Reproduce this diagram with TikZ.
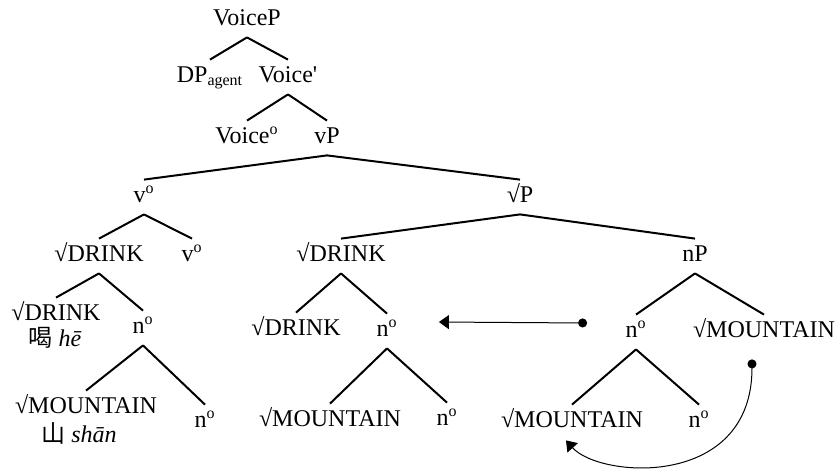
\documentclass[tikz,border=0pt]{standalone}
\usepackage{fontspec}
\setmainfont{Liberation Serif}
\newfontfamily\cjk{Noto Sans CJK SC}
\usetikzlibrary{arrows.meta}

\newcommand{\headcat}[1]{#1\textsuperscript{o}}

\tikzset{
  cat/.style={
    anchor=base, inner sep=2pt, text height=9pt, text depth=4pt,
    font=\fontsize{12}{14}\selectfont
  },
  glossed/.style={cat, inner ysep=0pt, text height=11pt, text depth=0pt},
  gloss/.style={anchor=base, inner sep=0pt, font=\fontsize{12}{14}\selectfont},
  branch/.style={line width=1pt},
  move/.style={line width=0.5pt, {Circle[length=4.5pt]}-{Triangle[length=5pt,width=7pt]}}
}

\begin{document}
\begin{tikzpicture}[x=0.5pt, y=-0.5pt]
    \useasboundingbox (0,0) rectangle (839,472);
    % upper spine
    \node[cat] (voicep)    at (247,25)  {VoiceP};
    \node[cat] (dp)        at (210,82)  {DP\textsubscript{agent}};
    \node[cat] (voicebar)  at (288,82)  {Voice\textquotesingle};
    \node[cat] (voicehead) at (247,143) {\headcat{Voice}};
    \node[cat] (vp)        at (327,143) {vP};
    \node[cat] (vhead)     at (144,202) {\headcat{v}};
    \node[cat] (rootp)     at (520,202) {√P};

    % complex head under v
    \node[cat] (drinkv)     at (99,261)  {√DRINK};
    \node[cat] (vlow)       at (192,261) {\headcat{v}};
    \node[glossed] (drinkroot) at (56,320) {√DRINK};
    \node[gloss] (drinkgloss) at (55,346) {{\cjk 喝} \textit{hē}};
    \node[cat] (drinkn)     at (143,333) {\headcat{n}};
    \node[glossed] (mountroot) at (86,413) {√MOUNTAIN};
    \node[gloss] (mountgloss) at (79,442) {{\cjk 山} \textit{shān}};
    \node[cat] (mountn)     at (205,427) {\headcat{n}};

    % root phrase
    \node[cat] (drinkmid)   at (341,261) {√DRINK};
    \node[cat] (drinkleaf)  at (296,335) {√DRINK};
    \node[cat] (nmid)       at (387,336) {\headcat{n}};
    \node[cat] (mountmid)   at (330,426) {√MOUNTAIN};
    \node[cat] (nmidleaf)   at (447,425) {\headcat{n}};

    \node[cat] (np)         at (695,261) {nP};
    \node[cat] (nright)     at (636,337) {\headcat{n}};
    \node[cat] (mountright) at (764,337) {√MOUNTAIN};
    \node[cat] (mountlow)   at (572,427) {√MOUNTAIN};
    \node[cat] (nlow)       at (699,427) {\headcat{n}};

    % branches
    \draw[branch] (voicep.south) -- (dp.north);
    \draw[branch] (voicep.south) -- (voicebar.north);
    \draw[branch] (voicebar.south) -- (voicehead.north);
    \draw[branch] (voicebar.south) -- (vp.north);
    \draw[branch] (vp.south) -- (vhead.north);
    \draw[branch] (vp.south) -- (rootp.north);
    \draw[branch] (vhead.south) -- (drinkv.north);
    \draw[branch] (vhead.south) -- (vlow.north);
    \draw[branch] (drinkv.south) -- (drinkroot.north);
    \draw[branch] (drinkv.south) -- (drinkn.north);
    \draw[branch] (drinkn.south) -- (mountroot.north);
    \draw[branch] (drinkn.south) -- (mountn.north);
    \draw[branch] (rootp.south) -- (drinkmid.north);
    \draw[branch] (rootp.south) -- (np.north);
    \draw[branch] (drinkmid.south) -- (drinkleaf.north);
    \draw[branch] (drinkmid.south) -- (nmid.north);
    \draw[branch] (nmid.south) -- (mountmid.north);
    \draw[branch] (nmid.south) -- (nmidleaf.north);
    \draw[branch] (np.south) -- (nright.north);
    \draw[branch] (np.south) -- (mountright.north);
    \draw[branch] (nright.south) -- (mountlow.north);
    \draw[branch] (nright.south) -- (nlow.north);

    % movement arrows
    \draw[move] ([shift={(-17pt,7pt)}]nright.base west) -- ([shift={(18.5pt,7pt)}]nmid.base east);
    \draw[move] ([shift={(-6pt,-5pt)}]mountright.south)
      .. controls +(0,-65pt) and +(17pt,-19pt) .. ([shift={(-3pt,-0.5pt)}]mountlow.south);
\end{tikzpicture}
\end{document}
